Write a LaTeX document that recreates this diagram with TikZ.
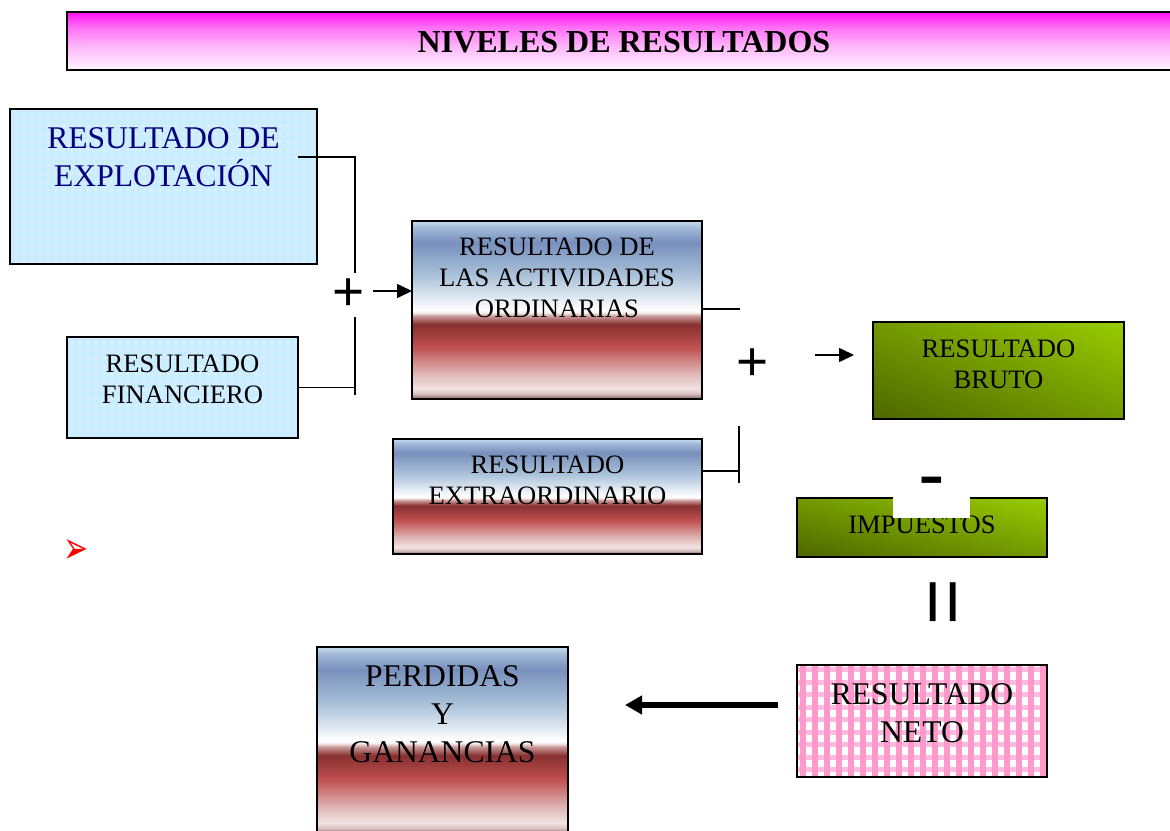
\documentclass[tikz,border=0pt]{standalone}
\usepackage{fontspec}
\usepackage{graphicx}
\setmainfont{Liberation Serif}
\newfontfamily\dejavu{DejaVu Sans}
\newfontfamily\lsans{Liberation Sans}
\usetikzlibrary{arrows.meta,patterns.meta,calc,shadings}
\definecolor{lblue}{HTML}{CCECFF}
\definecolor{navyt}{HTML}{000080}
\definecolor{ofA}{HTML}{806060}
\definecolor{ofB}{HTML}{D8C0C0}
\definecolor{ofC}{HTML}{F2E2E2}
\definecolor{ofD}{HTML}{E0B8B8}
\definecolor{ofE}{HTML}{C05050}
\definecolor{ofF}{HTML}{883030}
\definecolor{ofG}{HTML}{C89898}
\definecolor{ofH}{HTML}{F8F0F0}
\definecolor{ofI}{HTML}{E4ECF4}
\definecolor{ofJ}{HTML}{A8C0D8}
\definecolor{ofK}{HTML}{7890BC}
\definecolor{ofL}{HTML}{A0B8D8}
\definecolor{ofM}{HTML}{C8DCEC}
\definecolor{mgB}{HTML}{FFF6FF}
\definecolor{mgM}{HTML}{FFB8FA}
\definecolor{mgN}{HTML}{FF70F6}
\definecolor{mgT}{HTML}{FF10F2}
\definecolor{grnL}{HTML}{99CC00}
\definecolor{grnM}{HTML}{739900}
\definecolor{grnD}{HTML}{4D6600}
\definecolor{pinkD}{HTML}{FF99CC}
\definecolor{pinkL}{HTML}{FFBBDD}
\pgfdeclareverticalshading{oceanfire}{100bp}{color(0bp)=(ofA); color(25bp)=(ofA); color(26.5bp)=(ofB); color(28bp)=(ofC); color(32bp)=(ofD); color(39.5bp)=(ofE); color(46bp)=(ofF); color(48.3bp)=(ofG); color(49.3bp)=(ofH); color(50bp)=(white); color(53bp)=(ofI); color(60bp)=(ofJ); color(69bp)=(ofK); color(73bp)=(ofL); color(75bp)=(ofM); color(100bp)=(ofM)}
\pgfdeclareverticalshading{magbar}{100bp}{color(0bp)=(mgB); color(25bp)=(mgB); color(45bp)=(mgM); color(62bp)=(mgN); color(75bp)=(mgT); color(100bp)=(mgT)}
\newcommand\fsBig{\fontsize{31.6}{38}\selectfont}
\newcommand\fsMid{\fontsize{26.6}{31}\selectfont}
\newcommand\fsTtl{\fontsize{32}{38}\selectfont}
\begin{document}
\begin{tikzpicture}[x=1pt,y=-1pt,
  box/.style={draw=black,line width=2pt,inner sep=0pt,outer sep=0pt,rectangle},
  dotbox/.style={box,preaction={fill=lblue},pattern={Dots[distance=8pt,radius=0.8pt]},pattern color=white},
  firebox/.style={box,shade,shading=oceanfire},
  greenbox/.style={box,upper right=grnL,lower left=grnD,upper left=grnM,lower right=grnM},
  conn/.style={line width=1.6pt},
  tipsmall/.style={-{Triangle[length=15pt,width=14pt]}},
  plusf/.style={font=\lsans\fontsize{55}{55}\selectfont,inner sep=0pt},
  bigtxt/.style={font=\fsBig,align=center,inner sep=0pt},
  midtxt/.style={font=\fsMid,align=center,inner sep=0pt}]
\useasboundingbox (0,0) rectangle (1170,830);
% title
\node[box,shade,shading=magbar,minimum width=1108pt,minimum height=58pt] (title) at (621,41) {};
\node[font=\fsTtl\bfseries,inner sep=0pt] (ttl) at (624,42) {NIVELES DE RESULTADOS};
% boxes
\node[dotbox,minimum width=307pt,minimum height=155pt] (explot) at (163.5,186.5) {};
\node[bigtxt,text=navyt] (texplot) at (163.5,157) {RESULTADO DE\\EXPLOTACIÓN};
\node[dotbox,minimum width=231pt,minimum height=101pt] (financ) at (182.5,387.5) {};
\node[midtxt] (tfinanc) at (182.5,379) {RESULTADO\\FINANCIERO};
\node[firebox,minimum width=290pt,minimum height=178pt] (ordin) at (557,310) {};
\node[midtxt] (tordin) at (557,277.5) {RESULTADO DE\\LAS ACTIVIDADES\\ORDINARIAS};
\node[firebox,minimum width=309pt,minimum height=115pt] (extra) at (547.5,496.5) {};
\node[midtxt] (textra) at (547.5,480) {RESULTADO\\EXTRAORDINARIO};
\node[greenbox,minimum width=251pt,minimum height=97pt] (bruto) at (998.5,370.5) {};
\node[midtxt] (tbruto) at (998.5,364.5) {RESULTADO\\BRUTO};
\node[greenbox,minimum width=250pt,minimum height=59pt] (imp) at (922,527.5) {};
\node[midtxt] (timp) at (922,525) {IMPUESTOS};
\node[fill=white,inner sep=0pt,minimum width=77pt,minimum height=50pt] (minusbg) at (931.5,493) {};
\node[font=\lsans\fontsize{80}{80}\selectfont,inner sep=0pt,anchor=base] (minus) at (932,501) {-};
\node[font=\lsans\fontsize{80}{80}\selectfont,inner sep=0pt,rotate=90] (equal) at (950,602) {=};
\node[box,minimum width=250pt,minimum height=112pt,
  path picture={
    \fill[white] (path picture bounding box.south west) rectangle (path picture bounding box.north east);
    \foreach \j in {0,...,9} {\fill[pinkL] ($(path picture bounding box.north west)+(0,\j*12.5+2)$) rectangle ++(260,5);}
    \foreach \i in {0,...,21} {\fill[pinkD] ($(path picture bounding box.north west)+(\i*12+3,0)$) rectangle ++(6,120);}
  }] (neto) at (922,721) {};
\node[bigtxt] (tneto) at (922,713.5) {RESULTADO\\NETO};
\node[firebox,minimum width=251pt,minimum height=187pt] (perd) at (442.5,740.5) {};
\node[bigtxt] (tperd) at (442.5,714.5) {PERDIDAS\\Y\\GANANCIAS};
% connectors left bracket
\coordinate (e1) at (298,157);
\coordinate (e2) at (355,273);
\draw[conn] (e1) -| (e2);
\coordinate (f2) at (355,317);
\coordinate (f3) at (355,395);
\draw[conn] (f2) -- (f3);
\draw[conn] (financ.east) -- (financ.east -| f2);
\node[plusf] (p1) at (349,295) {+};
\coordinate (a1) at (373,291);
\draw[conn,tipsmall] (a1) -- (a1 -| ordin.west);
% right bracket
\coordinate (o1) at (740,309);
\draw[conn] (o1 -| ordin.east) -- (o1);
\coordinate (x1) at (739,471);
\draw[conn] (x1 -| extra.east) -- (x1);
\coordinate (x2) at (739,426);
\coordinate (x3) at (739,483);
\draw[conn] (x2) -- (x3);
\node[plusf] (p2) at (753,365) {+};
\coordinate (b1) at (815,355);
\coordinate (b2) at (854,355);
\draw[conn,tipsmall] (b1) -- (b2);
% bottom arrow
\coordinate (n1) at (778,705);
\coordinate (n2) at (625,705);
\draw[line width=5.5pt,-{Triangle[length=17pt,width=18pt]}] (n1) -- (n2);
% bullet
\node[text=red,font=\dejavu\fontsize{30}{30}\selectfont,inner sep=0pt] (bullet) at (76,551) {\scalebox{1}[1.5]{➢}};
\end{tikzpicture}
\end{document}
